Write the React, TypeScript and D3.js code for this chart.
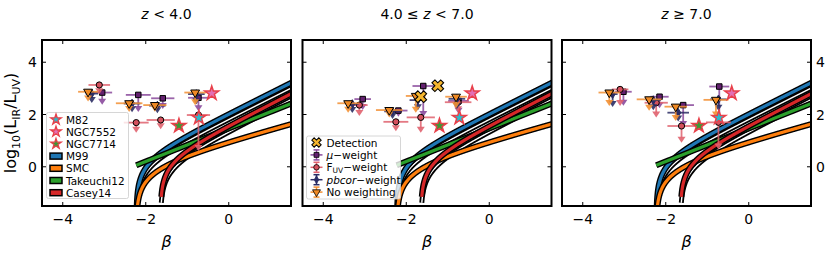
import * as d3 from "d3";

// panel titles and axis ticks
const TITLES = ["z < 4.0", "4.0 ≤ z < 7.0", "z ≥ 7.0"];
const BETA_TICKS = [-4, -2, 0];
const IRX_TICKS = [0, 2, 4];

// IRX-beta relations: logIRX = log10(10^(0.4*(a + b*beta)) - 1) + log10(B)
const CURVE_NAMES = ["M99", "SMC", "Takeuchi12", "Casey14"];
const CURVE_COLORS = ["#1f77b4", "#ff7f0e", "#2ca02c", "#d62728"];
const CURVE_A = [4.43, 2.453, 3.06, 3.36];
const CURVE_B = [1.99, 1.1, 1.58, 2.04];
const CURVE_NORM = [1.75, 1.0, 1.75, 1.68];
const CURVE_START = [-2.3, -2.3, -2.23, -1.625];
const CURVE_LINEAR = [false, false, true, false];
// unlabelled black variants (M99 and Casey14 with lower normalisation)
const EXTRA_IDX = [0, 3];
const EXTRA_NORM = [1.1, 1.0];

// local reference galaxies (same in every panel)
const REF_NAMES = ["M82", "NGC7552", "NGC7714"];
const REF_BETA = [-0.72, -0.41, -1.2];
const REF_IRX = [1.88, 2.81, 1.57];
const REF_FILL = ["#27bfd0", "#e46fb5", "#3a9a35"];

// stacked points, one row per panel: beta, beta error, log IRX, length of the upper-limit arrow
const MU_BETA = [[-3.05, -2.18, -1.59, -0.73], [-3.05, -2.19, -1.59, -0.74], [-3.02, -2.15, -1.58, -0.71]];
const MU_ERR = [[0.24, 0.3, 0.28, 0.25], [0.2, 0.22, 0.26, 0.25], [0.2, 0.22, 0.26, 0.24]];
const MU_IRX = [[2.84, 2.75, 2.62, 2.64], [2.59, 2.15, 3.09, 2.52], [2.87, 2.68, 2.36, 3.07]];
const MU_DROP = [[0.43, 0.62, 0.37, 0.48], [0.38, 0.2, 1.15, 0.45], [0.5, 0.4, 0.8, 1.28]];

const FUV_BETA = [[-3.12, -2.23, -1.64, -0.73], [-3.13, -2.25, -1.65, -0.75], [-3.1, -2.23, -1.62, -0.73]];
const FUV_ERR = [[0.26, 0.3, 0.34, 0.28], [0.2, 0.3, 0.34, 0.32], [0.2, 0.28, 0.34, 0.3]];
const FUV_IRX = [[3.13, 1.69, 1.79, 1.98], [2.36, 1.72, 1.89, 2.47], [2.96, 2.45, 1.56, 1.7]];
const FUV_DROP = [[0.32, 0.35, 0.32, 1.34], [0.38, 0.32, 0.55, 0.35], [0.6, 0.53, 0.6, 1.0]];

const PB_BETA = [[-3.3, -2.33, -1.72, -0.78], [-3.3, -2.33, -1.72, -0.78], [-3.28, -2.3, -1.7, -0.73]];
const PB_ERR = [[0.15, 0.2, 0.2, 0.2], [0.15, 0.2, 0.2, 0.2], [0.12, 0.18, 0.26, 0.2]];
const PB_IRX = [[2.8, 2.42, 2.34, 2.78], [2.4, 2.12, 2.55, 2.6], [2.78, 2.55, 2.07, 2.58]];
const PB_DROP = [[0.32, 0.3, 0.25, 0.35], [0.3, 0.25, 0.35, 0.35], [0.45, 0.35, 0.3, 0.4]];

const NW_BETA = [[-3.39, -2.4, -1.78, -0.81], [-3.4, -2.41, -1.77, -0.8], [-3.36, -2.4, -1.76, -0.79]];
const NW_ERR = [[0.24, 0.32, 0.28, 0.26], [0.26, 0.32, 0.24, 0.26], [0.26, 0.3, 0.27, 0.3]];
const NW_IRX = [[2.87, 2.43, 2.36, 2.84], [2.43, 2.17, 2.71, 2.68], [2.84, 2.58, 2.3, 2.56]];
const NW_DROP = [[0.33, 0.3, 0.22, 0.45], [0.32, 0.25, 0.6, 0.4], [0.48, 0.4, 0.51, 0.64]];

// detections (middle panel only)
const DET_BETA = [[], [-1.24, -1.65], []];
const DET_IRX = [[], [3.1, 2.68], []];

const W = 831;
const H = 254;
const PANEL_X = [42, 302.5, 562];
const PW = 249;
const PT = 40;
const PH = 166;
const FONT = "DejaVu Sans, sans-serif";

const x = d3.scaleLinear().domain([-4.5, 1.5]).range([0, PW]);
const y = d3.scaleLinear().domain([-1.5, 4.85]).range([PH, 0]);

const SERIES = [
  { key: "mu", beta: MU_BETA, err: MU_ERR, irx: MU_IRX, drop: MU_DROP, line: "#8a4a9c", fill: "#63206f", shape: d3.symbolSquare, size: 30, rot: 0 },
  { key: "fuv", beta: FUV_BETA, err: FUV_ERR, irx: FUV_IRX, drop: FUV_DROP, line: "#e0626e", fill: "#d4505d", shape: d3.symbolCircle, size: 30, rot: 0 },
  { key: "pb", beta: PB_BETA, err: PB_ERR, irx: PB_IRX, drop: PB_DROP, line: "#2b2d64", fill: "#2b2d64", shape: d3.symbolDiamond, size: 22, rot: 0 },
  { key: "nw", beta: NW_BETA, err: NW_ERR, irx: NW_IRX, drop: NW_DROP, line: "#f39033", fill: "#f08a24", shape: d3.symbolTriangle, size: 34, rot: 180 },
];

function relation(i: number, norm: number) {
  const grid = d3.range(CURVE_START[i], 1.56, 0.005);
  const pts: [number, number][] = [];
  for (const b of grid) {
    const A = CURVE_A[i] + CURVE_B[i] * b;
    const v = CURVE_LINEAR[i]
      ? 0.4 * A + Math.log10(norm)
      : Math.log10(Math.pow(10, 0.4 * A) - 1) + Math.log10(norm);
    if (isFinite(v)) pts.push([b, Math.max(v, -3)]);
  }
  return pts;
}

const line = d3.line<[number, number]>().x((d) => x(d[0])).y((d) => y(d[1]));
const sym = (shape: any, size: number) => d3.symbol().type(shape).size(size)() as string;
const STAR = sym(d3.symbolStar, 60);
const CROSS = sym(d3.symbolCross, 85);

function Point({ s, px, py, err, drop }: any) {
  const x0 = x(px - err), x1 = x(px + err);
  const cx = x(px), cy = y(py), ey = y(py - drop);
  return (
    <g>
      <line x1={x0} x2={x1} y1={cy} y2={cy} stroke={s.line} strokeWidth={1.8} opacity={0.85} />
      <line x1={cx} x2={cx} y1={cy} y2={ey - 4} stroke={s.line} strokeWidth={1.8} opacity={0.85} />
      <path d={`M${cx - 4},${ey - 5}L${cx + 4},${ey - 5}L${cx},${ey + 1}Z`} fill={s.line} opacity={0.9} />
      <path d={sym(s.shape, s.size)} transform={`translate(${cx},${cy}) rotate(${s.rot})`} fill={s.fill} stroke={s.key === "pb" ? s.fill : "#000"} strokeWidth={1} />
    </g>
  );
}

function Panel({ idx }: { idx: number }) {
  const clip = `clip${idx}`;
  return (
    <g transform={`translate(${PANEL_X[idx]},${PT})`}>
      <defs>
        <clipPath id={clip}>
          <rect x={0} y={0} width={PW} height={PH} />
        </clipPath>
      </defs>
      <g clipPath={`url(#${clip})`}>
        {EXTRA_IDX.map((ci, k) => (
          <g key={"e" + k}>
            <path d={line(relation(ci, EXTRA_NORM[k])) || ""} fill="none" stroke="#000" strokeWidth={5} />
            <path d={line(relation(ci, EXTRA_NORM[k])) || ""} fill="none" stroke="#fff" strokeWidth={1.4} />
          </g>
        ))}
        {CURVE_NAMES.map((n, i) => (
          <g key={n}>
            <path d={line(relation(i, CURVE_NORM[i])) || ""} fill="none" stroke="#000" strokeWidth={6} strokeLinecap="butt" />
            <path d={line(relation(i, CURVE_NORM[i])) || ""} fill="none" stroke={CURVE_COLORS[i]} strokeWidth={3.2} />
          </g>
        ))}
        {SERIES.map((s) =>
          s.beta[idx].map((b: number, j: number) => (
            <Point key={s.key + j} s={s} px={b} py={s.irx[idx][j]} err={s.err[idx][j]} drop={s.drop[idx][j]} />
          ))
        )}
        {DET_BETA[idx].map((b, j) => (
          <path key={"d" + j} d={CROSS} transform={`translate(${x(b)},${y(DET_IRX[idx][j])}) rotate(45)`} fill="#f5b52e" stroke="#000" strokeWidth={1.1} />
        ))}
        {REF_NAMES.map((n, k) => (
          <path key={n} d={STAR} transform={`translate(${x(REF_BETA[k])},${y(REF_IRX[k])})`} fill={REF_FILL[k]} stroke="#e8404a" strokeWidth={1.5} />
        ))}
      </g>
      {/* ticks inside on all sides */}
      {BETA_TICKS.map((t) => (
        <g key={"x" + t}>
          <line x1={x(t)} x2={x(t)} y1={PH} y2={PH - 4} stroke="#000" />
          <line x1={x(t)} x2={x(t)} y1={0} y2={4} stroke="#000" />
          <text x={x(t)} y={PH + 18} textAnchor="middle" fontSize={14} fontFamily={FONT}>
            {t < 0 ? "−" + Math.abs(t) : t}
          </text>
        </g>
      ))}
      {IRX_TICKS.map((t) => (
        <g key={"y" + t}>
          <line x1={0} x2={4} y1={y(t)} y2={y(t)} stroke="#000" />
          <line x1={PW} x2={PW - 4} y1={y(t)} y2={y(t)} stroke="#000" />
          {idx === 0 && (
            <text x={-5} y={y(t) + 5} textAnchor="end" fontSize={14} fontFamily={FONT}>{t}</text>
          )}
          {idx === 2 && (
            <text x={PW + 5} y={y(t) + 5} textAnchor="start" fontSize={14} fontFamily={FONT}>{t}</text>
          )}
        </g>
      ))}
      <rect x={0} y={0} width={PW} height={PH} fill="none" stroke="#000" strokeWidth={2} />
      <text x={PW / 2} y={PH + 41} textAnchor="middle" fontSize={16} fontStyle="italic" fontFamily={FONT}>β</text>
      <text x={PW / 2} y={-21} textAnchor="middle" fontSize={14} fontFamily={FONT}>
        {idx === 0 && (<><tspan fontStyle="italic">z</tspan> {"< 4.0"}</>)}
        {idx === 1 && (<>{"4.0 ≤ "}<tspan fontStyle="italic">z</tspan>{" < 7.0"}</>)}
        {idx === 2 && (<><tspan fontStyle="italic">z</tspan>{" ≥ 7.0"}</>)}
      </text>
      {idx === 0 && <RefLegend />}
      {idx === 1 && <WeightLegend />}
    </g>
  );
}

function RefLegend() {
  const x0 = 4.5, y0 = 72.5, rowH = 12.2;
  return (
    <g fontFamily={FONT} fontSize={10.5}>
      <rect x={x0} y={y0} width={82} height={86} rx={2} fill="#fff" fillOpacity={0.8} stroke="#ccc" strokeWidth={0.8} />
      {REF_NAMES.map((n, k) => (
        <g key={n} transform={`translate(0,${y0 + 7 + k * rowH})`}>
          <path d={sym(d3.symbolStar, 34)} transform="translate(14,0)" fill={REF_FILL[k]} stroke="#e8404a" strokeWidth={1.3} />
          <text x={24} y={4}>{n}</text>
        </g>
      ))}
      {CURVE_NAMES.map((n, i) => (
        <g key={n} transform={`translate(0,${y0 + 7 + (i + 3) * rowH})`}>
          <rect x={8} y={-3} width={12} height={6} fill={CURVE_COLORS[i]} stroke="#000" strokeWidth={1.5} />
          <text x={24} y={4}>{n}</text>
        </g>
      ))}
    </g>
  );
}

function WeightLegend() {
  const x0 = 4, y0 = 96, rowH = 12.4;
  const labels = [
    <>Detection</>,
    <><tspan fontStyle="italic">μ</tspan>−weight</>,
    <>F<tspan fontSize={7.5} dy={2}>UV</tspan><tspan dy={-2}>−weight</tspan></>,
    <><tspan fontStyle="italic">pbcor</tspan>−weight</>,
    <>No weighting</>,
  ];
  return (
    <g fontFamily={FONT} fontSize={10.5}>
      <rect x={x0} y={y0} width={94} height={63} rx={2} fill="#fff" fillOpacity={0.8} stroke="#ccc" strokeWidth={0.8} />
      {labels.map((lab, k) => {
        const cy = y0 + 6.5 + k * rowH;
        const s = k > 0 ? SERIES[k - 1] : null;
        return (
          <g key={k} transform={`translate(0,${cy})`}>
            {s ? (
              <g>
                <line x1={8} x2={20} y1={0} y2={0} stroke={s.line} strokeWidth={1.5} />
                <line x1={14} x2={14} y1={-5} y2={5} stroke={s.line} strokeWidth={1.5} />
                <line x1={11} x2={17} y1={-5} y2={-5} stroke={s.line} strokeWidth={1.5} />
                <line x1={11} x2={17} y1={5} y2={5} stroke={s.line} strokeWidth={1.5} />
                <path d={sym(s.shape, s.size * 0.8)} transform={`translate(14,0) rotate(${s.rot})`} fill={s.fill} stroke={s.key === "pb" ? s.fill : "#000"} strokeWidth={0.8} />
              </g>
            ) : (
              <path d={sym(d3.symbolCross, 55)} transform="translate(14,0) rotate(45)" fill="#f5b52e" stroke="#000" strokeWidth={1} />
            )}
            <text x={24} y={4}>{lab}</text>
          </g>
        );
      })}
    </g>
  );
}

export default function App() {
  return (
    <svg width={W} height={H} style={{ position: "absolute", left: 0, top: 0, background: "#fff" }}>
      <text transform={`translate(16,${PT + PH / 2}) rotate(-90)`} textAnchor="middle" fontSize={16} fontFamily={FONT}>
        log<tspan fontSize={11} dy={4}>10</tspan>
        <tspan dy={-4}>(L</tspan>
        <tspan fontSize={11} dy={4}>IR</tspan>
        <tspan dy={-4}>/L</tspan>
        <tspan fontSize={11} dy={4}>UV</tspan>
        <tspan dy={-4}>)</tspan>
      </text>
      {TITLES.map((t, i) => (
        <Panel key={t} idx={i} />
      ))}
    </svg>
  );
}
